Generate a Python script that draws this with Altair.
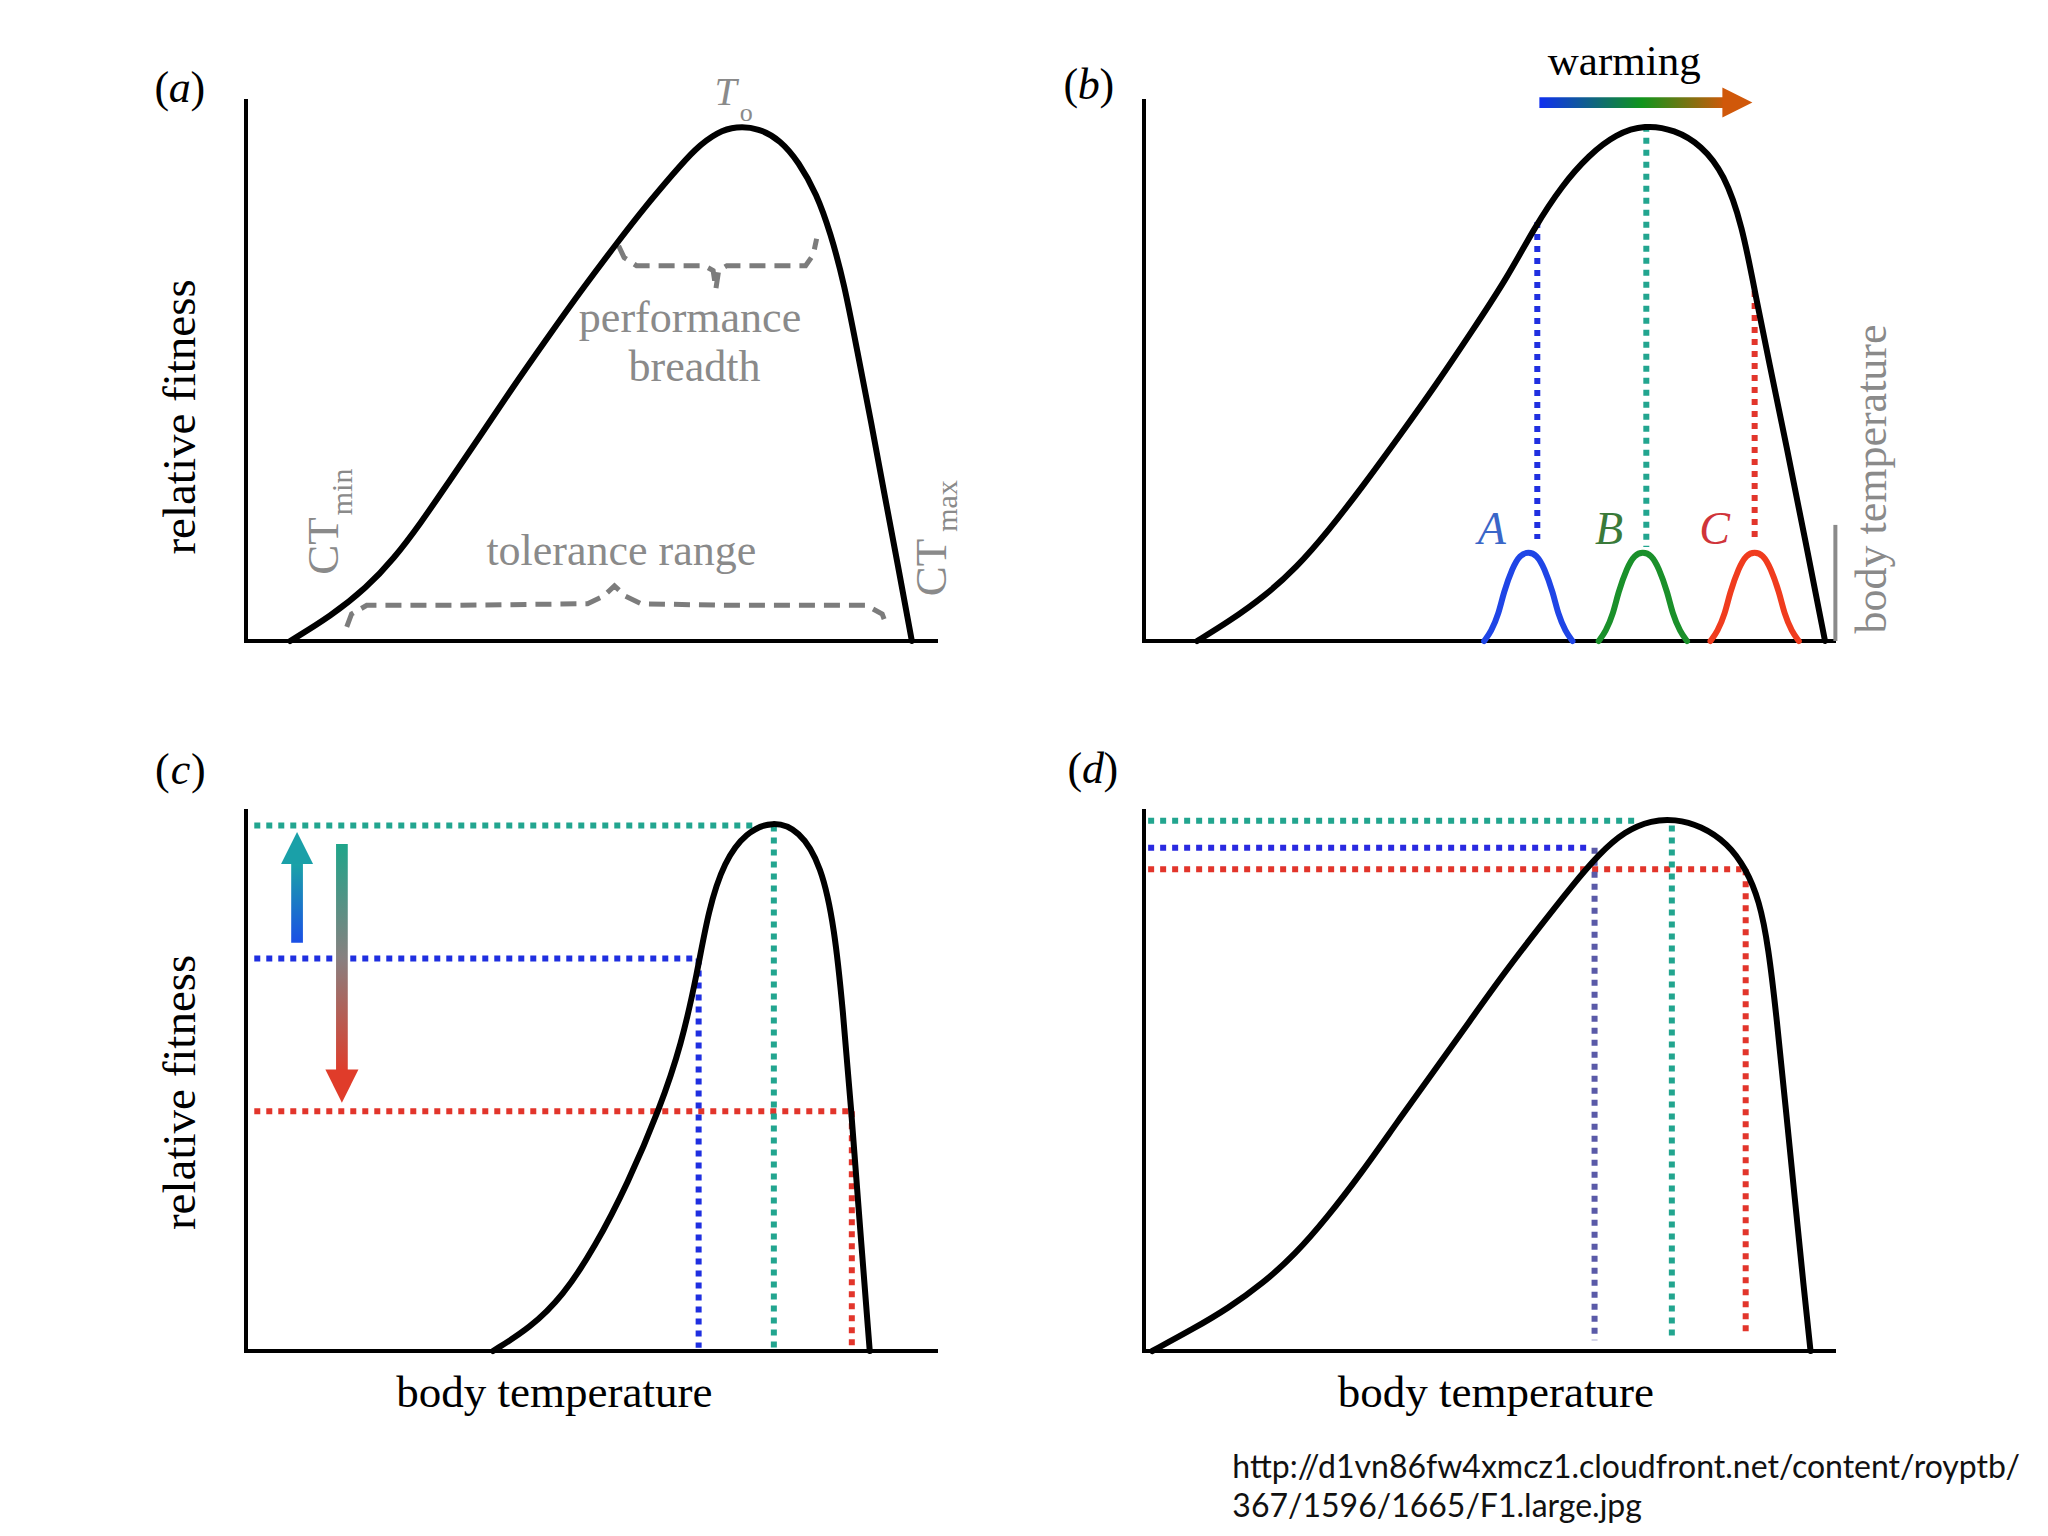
import altair as alt
import pandas as pd

SERIF = "Liberation Serif"
SANS = "Lato"
GRAY = "#8a8a8a"
BRACE_GRAY = "#7c7c7c"
BLUE = "#1f2fe0"
TEAL = "#22a58f"
RED = "#e2352b"

W, H = 690, 540

# ---------------- panel (a): thermal performance curve ----------------
A_TEMP = [6.4, 12.3, 17.5, 21.4, 25.3, 29.2, 33.8, 38.4, 43.6, 48.8, 54.0, 57.9, 61.9, 65.1, 68.4, 71.0,
          74.3, 77.5, 80.1, 82.7, 84.7, 86.7, 88.6, 90.6, 92.5, 94.5, 96.5]
A_FIT = [0, 4.6, 9.9, 15.2, 21.8, 29.1, 37.7, 46.5, 56.0, 65.3, 74.1, 80.5, 86.5, 91.2, 94.3, 95.3,
         95.0, 92.7, 88.7, 82.8, 75.6, 66.2, 53.6, 40.6, 27.3, 13.9, 0]
PERF_TEMP = [54.0, 54.8, 56.6, 60.0, 66.4, 67.7, 68.1, 68.5, 69.7, 75.0, 81.1, 82.2, 82.7]
PERF_FIT = [73.2, 71.0, 69.5, 69.5, 69.5, 68.6, 65.2, 68.6, 69.5, 69.5, 69.5, 71.5, 74.5]
TOL_TEMP = [14.6, 15.3, 17.5, 30.0, 49.5, 51.8, 53.4, 55.0, 57.3, 70.0, 89.9, 92.2, 92.9]
TOL_FIT = [2.6, 5.0, 6.6, 6.6, 6.9, 8.3, 10.2, 8.3, 6.9, 6.6, 6.6, 5.0, 2.6]

# ---------------- panel (b) ----------------
B_TEMP = [7.7, 12.3, 17.5, 22.1, 26.6, 31.8, 37.1, 42.3, 47.5, 52.7, 56.6, 60.6, 64.5, 68.4, 72.6,
          76.9, 80.8, 84.1, 86.7, 88.6, 90.6, 93.2, 95.8, 98.7]
B_FIT = [0, 3.6, 8.3, 13.6, 20.2, 28.8, 38.1, 47.4, 57.3, 67.4, 76.6, 84.4, 90.0, 93.9, 95.6,
         94.7, 91.8, 86.5, 77.0, 64.2, 51.6, 35.6, 18.9, 0]
B_GUIDE_T = [57.0, 72.8, 88.5]
B_GUIDE_TOP = [77.6, 95.4, 64.8]
B_GUIDE_BASE = [18.9, 17.4, 18.5]
B_GUIDE_COLORS = [BLUE, TEAL, RED]
BUMP_CENTERS = [55.7, 72.3, 88.5]
BUMP_OFFSETS = [-6.4, -5.4, -4.3, -3.6, -2.3, -1.2, 0, 1.2, 2.3, 3.6, 4.3, 5.4, 6.4]
BUMP_HEIGHTS = [0, 1.7, 5.0, 8.9, 13.6, 16.0, 16.5, 16.0, 13.6, 8.9, 5.0, 1.7, 0]
BUMP_COLORS = ["#1f45e6", "#1a902a", "#f03c1e"]
BUMP_LABELS = ["A", "B", "C"]
BUMP_LABEL_T = [50.4, 67.4, 82.7]
BUMP_LABEL_COLORS = ["#3a66c8", "#3a7a3a", "#d0343a"]

# ---------------- panel (c) ----------------
C_TEMP = [35.8, 41.2, 45.9, 50.6, 55.3, 60.0, 63.1, 65.4, 67.0, 69.3, 72.5, 76.3, 80.2, 83.4, 85.3, 86.5, 87.7, 88.8, 90.4]
C_FIT = [0, 4.3, 10.1, 19.3, 30.9, 45.0, 56.7, 70.0, 81.6, 90.7, 96.1, 98.2, 96.5, 89.9, 78.3, 63.3, 45.0, 25.9, 0]
C_LEVELS = [97.3, 72.7, 44.4]
C_CROSS = [76.5, 65.6, 87.8]
C_H_END = [74.0, 65.0, 87.3]
C_COLORS = [TEAL, BLUE, RED]

# ---------------- panel (d) ----------------
D_TEMP = [1.2, 7.0, 12.2, 17.3, 21.9, 26.4, 31.6, 36.7, 41.9, 47.1, 52.3, 57.5, 62.0, 65.9, 69.7, 73.6,
          76.9, 80.7, 84.6, 87.2, 89.2, 90.5, 91.7, 93.0, 94.3, 95.6, 96.6]
D_FIT = [0, 4.0, 7.9, 12.6, 17.9, 24.5, 33.1, 42.4, 51.6, 60.9, 70.2, 78.8, 86.1, 92.0, 96.3, 98.3,
         98.5, 97.3, 94.0, 89.4, 83.4, 74.8, 61.6, 45.0, 28.5, 11.9, 0]
D_LEVELS = [98.2, 93.2, 89.2]
D_CROSS = [76.5, 65.3, 87.2]
D_H_END = [71.7, 64.9, 86.6]
D_V_TOP = [97.3, 93.2, 89.2]
D_V_BASE = [2.6, 2.0, 2.6]
D_H_COLORS = [TEAL, "#2a2ae0", RED]
D_V_COLORS = [TEAL, "#5a5aa8", RED]

URL_LINES = ["http://d1vn86fw4xmcz1.cloudfront.net/content/royptb/", "367/1596/1665/F1.large.jpg"]

RIGHT = "M-1,-1L1,0L-1,1Z"
UP = "M-1,1L0,-1L1,1Z"
DOWN = "M-1,-1L0,1L1,-1Z"


def xs(field="t"):
    return alt.X(f"{field}:Q", scale=alt.Scale(domain=[0, 100], nice=False, zero=False), axis=None)


def ys(field="f"):
    return alt.Y(f"{field}:Q", scale=alt.Scale(domain=[0, 100], nice=False, zero=False), axis=None)


def curve(temp, fit):
    df = pd.DataFrame({"t": temp, "f": fit, "i": list(range(len(temp)))})
    return alt.Chart(df).mark_line(color="black", strokeWidth=6, interpolate="basis",
                                   strokeCap="round", strokeJoin="round").encode(
        x=xs(), y=ys(), order="i:Q")


def brace(temp, fit):
    df = pd.DataFrame({"t": temp, "f": fit, "i": list(range(len(temp)))})
    return alt.Chart(df).mark_line(color=BRACE_GRAY, strokeWidth=5, strokeDash=[16, 9],
                                   interpolate="linear").encode(x=xs(), y=ys(), order="i:Q")


def segments(t, f, t2, f2, colors, dotted=True, width=6, cap="butt"):
    df = pd.DataFrame({"t": t, "f": f, "t2": t2, "f2": f2, "c": colors})
    kw = dict(strokeWidth=width, strokeCap=cap)
    if dotted:
        kw["strokeDash"] = [6, 6]
    return alt.Chart(df).mark_rule(**kw).encode(
        x=xs(), y=ys(), x2="t2:Q", y2="f2:Q", color=alt.Color("c:N", scale=None))


def frame():
    # the two axis lines of a panel: temperature axis and fitness axis
    return segments([0, 0], [0, 0], [100, 0], [0, 100], ["black", "black"],
                    dotted=False, width=4, cap="square")


def texts(ts, fs, labels, size, color="black", style="normal", angle=0, align="center",
          font=SERIF, dx=0, colors=None):
    df = pd.DataFrame({"t": ts, "f": fs, "label": labels})
    kw = dict(font=font, fontSize=size, fontStyle=style, align=align, baseline="middle", dx=dx)
    if angle:
        kw["angle"] = angle
    enc = dict(x=xs(), y=ys(), text="label:N")
    if colors is not None:
        df["c"] = colors
        enc["color"] = alt.Color("c:N", scale=None)
    else:
        kw["color"] = color
    return alt.Chart(df).mark_text(**kw).encode(**enc)


def panel_label(t, f, letter):
    return [texts([t], [f], ["("], 44, dx=-18),
            texts([t], [f], [letter], 44, style="italic"),
            texts([t], [f], [")"], 44, dx=18)]


def grad_rect(t, t2, f, f2, stops, vertical):
    g = alt.Gradient(gradient="linear",
                     stops=[alt.GradientStop(offset=o, color=c) for o, c in stops],
                     x1=0, y1=0, x2=0 if vertical else 1, y2=1 if vertical else 0)
    df = pd.DataFrame({"t": [t], "t2": [t2], "f": [f], "f2": [f2]})
    return alt.Chart(df).mark_rect(color=g).encode(x=xs(), x2="t2:Q", y=ys(), y2="f2:Q")


def head(t, f, shape, color, size):
    df = pd.DataFrame({"t": [t], "f": [f]})
    return alt.Chart(df).mark_point(shape=shape, size=size, filled=True, color=color,
                                    opacity=1, strokeWidth=0).encode(x=xs(), y=ys())


# ---------------- build panel (a) ----------------
pa_layers = [
    frame(),
    brace(PERF_TEMP, PERF_FIT),
    brace(TOL_TEMP, TOL_FIT),
    curve(A_TEMP, A_FIT),
    texts([-9.4], [41.5], ["relative fitness"], 47, angle=270),
    texts([69.5], [101.5], ["T"], 40, color=GRAY, style="italic"),
    texts([72.5], [97.8], ["o"], 26, color=GRAY),
    texts([64.35, 65.0], [59.6, 50.6], ["performance", "breadth"], 44, color=GRAY),
    texts([54.4], [16.4], ["tolerance range"], 44, color=GRAY),
    texts([11.3], [17.6], ["CT"], 45, color=GRAY, angle=270),
    texts([14.0], [27.6], ["min"], 30, color=GRAY, angle=270),
    texts([99.4], [13.6], ["CT"], 45, color=GRAY, angle=270),
    texts([101.8], [25.0], ["max"], 30, color=GRAY, angle=270),
] + panel_label(-9.6, 102.3, "a")
pa = alt.layer(*pa_layers).properties(width=W, height=H)

# ---------------- build panel (b) ----------------
bump_rows = {"t": [], "f": [], "g": [], "c": []}
for name, center, col in zip(BUMP_LABELS, BUMP_CENTERS, BUMP_COLORS):
    for off, h in zip(BUMP_OFFSETS, BUMP_HEIGHTS):
        bump_rows["t"].append(center + off)
        bump_rows["f"].append(h)
        bump_rows["g"].append(name)
        bump_rows["c"].append(col)
bumps = alt.Chart(pd.DataFrame(bump_rows)).mark_line(
    strokeWidth=6, interpolate="basis", strokeCap="round").encode(
    x=xs(), y=ys(), detail="g:N", color=alt.Color("c:N", scale=None))

pb_layers = [
    frame(),
    segments(B_GUIDE_T, B_GUIDE_TOP, B_GUIDE_T, B_GUIDE_BASE, B_GUIDE_COLORS),
    curve(B_TEMP, B_FIT),
    bumps,
    texts(BUMP_LABEL_T, [20.5, 20.5, 20.5], BUMP_LABELS, 46, style="italic",
          colors=BUMP_LABEL_COLORS),
    texts([69.6], [107.3], ["warming"], 43),
    grad_rect(57.3, 84.3, 98.7, 100.7,
              [(0, "#1030f0"), (0.55, "#10951c"), (1, "#d0580a")], vertical=False),
    head(86.0, 99.7, RIGHT, "#d0580a", 900),
    segments([100.2], [0.0], [100.2], [21.5], [GRAY], dotted=False, width=4),
    texts([105.6], [30.0], ["body temperature"], 44, color=GRAY, angle=270),
] + panel_label(-8.0, 102.8, "b")
pb = alt.layer(*pb_layers).properties(width=W, height=H)

# ---------------- build panel (c) ----------------
pc_layers = [
    frame(),
    segments([1.2] * 3, C_LEVELS, C_H_END, C_LEVELS, C_COLORS),
    segments(C_CROSS, C_LEVELS, C_CROSS, [0.6] * 3, C_COLORS),
    curve(C_TEMP, C_FIT),
    texts([-9.4], [47.9], ["relative fitness"], 47, angle=270),
    texts([44.7], [-7.85], ["body temperature"], 45),
    grad_rect(6.55, 8.25, 75.6, 90.6, [(0, "#1aa5a5"), (1, "#1a4fe6")], vertical=True),
    head(7.4, 93.15, UP, "#1aa0a8", 1024),
    grad_rect(13.05, 14.75, 51.5, 93.9,
              [(0, "#1fa58a"), (0.5, "#888080"), (1, "#e03c2a")], vertical=True),
    head(13.9, 49.05, DOWN, "#e03c2a", 1090),
] + panel_label(-9.5, 107.4, "c")
pc = alt.layer(*pc_layers).properties(width=W, height=H)

# ---------------- build panel (d) ----------------
pd_layers = [
    frame(),
    segments([0.6] * 3, D_LEVELS, D_H_END, D_LEVELS, D_H_COLORS),
    segments(D_CROSS, D_V_TOP, D_CROSS, D_V_BASE, D_V_COLORS),
    curve(D_TEMP, D_FIT),
    texts([51.0], [-7.7], ["body temperature"], 45),
    texts([12.8, 12.8], [-21.6, -28.9], URL_LINES, 32, color="#111111", align="left", font=SANS),
] + panel_label(-7.4, 107.6, "d")
pdd = alt.layer(*pd_layers).properties(width=W, height=H)

chart = alt.concat(pa, pb, pc, pdd, columns=2, spacing={"row": 170, "column": 208},
                   bounds="flush").properties(
    padding={"left": 146, "top": 32, "right": 5, "bottom": 5},
    background="white",
).configure_view(stroke=None)

chart.save("out.html", embed_options={"renderer": "svg", "actions": False})
